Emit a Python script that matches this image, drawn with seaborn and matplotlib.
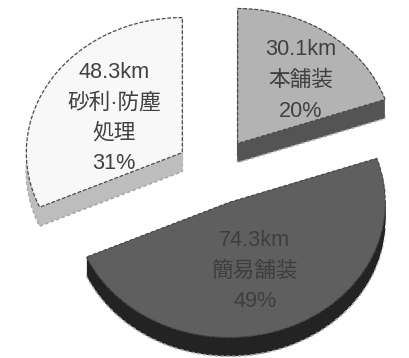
import numpy as np
import matplotlib
matplotlib.use("Agg")
import matplotlib.pyplot as plt
import seaborn as sns

# ---- data ----
categories = ["本舗装", "砂利·防塵\n処理", "簡易舗装"]
lengths_km = [30.1, 48.3, 74.3]
percents = [20, 31, 49]

top_colors = ["#b3b3b3", "#f8f8f8", "#5f5f5f"]
side_colors = ["#545454", "#bdbdbd", "#232323"]
text_colors = ["#404040", "#404040", "#3e3e3e"]

sns.set_theme(style="white")
plt.rcParams["font.family"] = ["Liberation Sans", "Noto Sans CJK JP", "DejaVu Sans"]

fig = plt.figure(figsize=(4.10, 3.58), dpi=100)
ax = fig.add_axes([0, 0, 1, 1])

# gray slice clockwise from 12 o'clock, then the others counter-clockwise from it
order = [0, 2, 1]
vals = [lengths_km[i] for i in order]
tops = [top_colors[i] for i in order]
sides = [side_colors[i] for i in order]
explode = [0.25] * 3
depth = 0.14

# extruded side walls
for k, t in enumerate(np.linspace(depth, 0.0, 16)):
    if k == 0:
        wp = dict(linewidth=1.2, edgecolor="#a8a8a8", linestyle=(0, (2, 1.5)))
    else:
        wp = dict(linewidth=0, linestyle="solid")
    ax.pie(vals, explode=explode, startangle=90, counterclock=False,
           colors=sides, center=(0, -t), wedgeprops=wp)

# top faces
ax.pie(vals, explode=explode, startangle=90, counterclock=False,
       colors=tops, center=(0, 0),
       wedgeprops=dict(linewidth=0.9, edgecolor="#4a4a4a",
                       linestyle=(0, (3, 1.5))))

# labels
label_pos = {0: (0.55, 0.67), 1: (-0.647, 0.393), 2: (0.256, -0.741)}
for i in range(3):
    txt = f"{lengths_km[i]}km\n{categories[i]}\n{percents[i]}%"
    x, y = label_pos[i]
    ax.text(x, y, txt, ha="center", va="center", fontsize=15.6,
            color=text_colors[i], linespacing=1.6)

ax.set_aspect("auto")
ax.set_xlim(-215 / 156, (410 - 215) / 156)
ax.set_ylim(-(358 - 171) / 135, 171 / 135)
ax.axis("off")

fig.savefig("out.png", dpi=100, facecolor="white")
